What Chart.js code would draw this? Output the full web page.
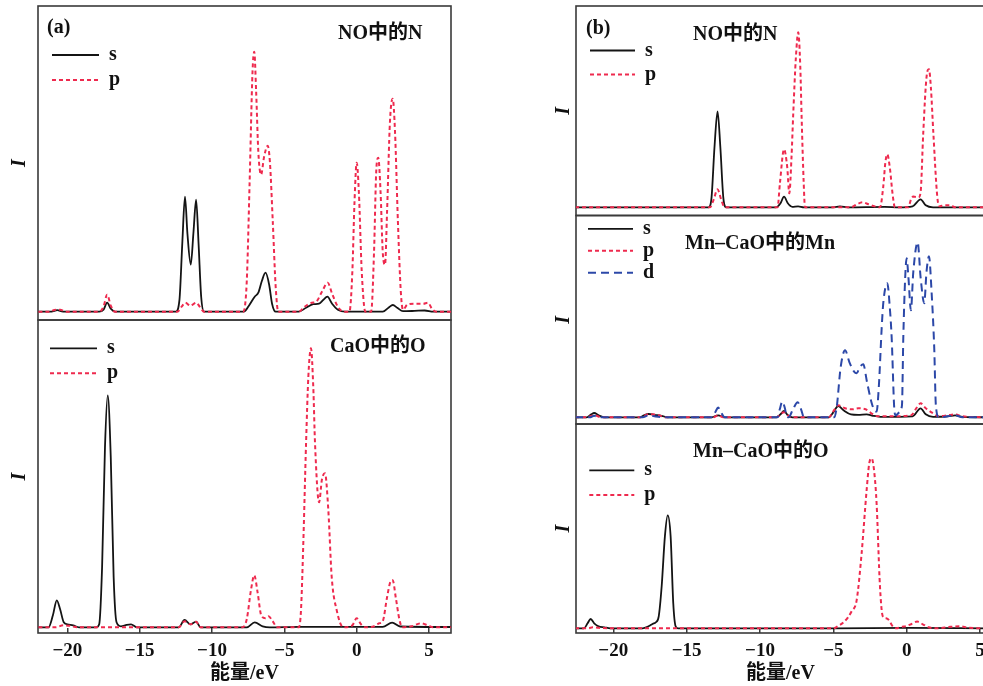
<!DOCTYPE html>
<html>
<head>
<meta charset="utf-8">
<script src="https://cdn.jsdelivr.net/npm/chart.js@4.4.1/dist/chart.umd.min.js"></script>
<style>
  html, body { margin: 0; padding: 0; background: #fff; }
  body { width: 983px; height: 686px; overflow: hidden; position: relative; }
  canvas { position: absolute; }
  .name { position: absolute; font: bold 20px "Liberation Serif", "Noto Sans CJK SC", serif; line-height: 20px; white-space: nowrap; color: #111; }
</style>
</head>
<body>
<canvas id="aTop" width="460" height="325" style="left:0;top:0"></canvas>
<canvas id="aBot" width="460" height="371" style="left:0;top:315px"></canvas>
<canvas id="bTop" width="480" height="220" style="left:530px;top:0"></canvas>
<canvas id="bMid" width="480" height="217" style="left:530px;top:211px"></canvas>
<canvas id="bBot" width="480" height="266" style="left:530px;top:420px"></canvas>
<div class="name" style="left:338px;top:22px">NO中的N</div>
<div class="name" style="left:330px;top:335px">CaO中的O</div>
<div class="name" style="left:693px;top:23px">NO中的N</div>
<div class="name" style="left:685px;top:232px">Mn–CaO中的Mn</div>
<div class="name" style="left:693px;top:440px">Mn–CaO中的O</div>
<script>
// energy (eV), intensity (arbitrary units) pairs
const xTicks = [-20, -15, -10, -5, 0, 5];
const xTitle = '能量/eV';

// (a) NO中的N
const aN_s = [[-22,0],[-21.1,0],[-20.7,1.5],[-20.3,0],[-17.8,0],[-17.5,2],[-17.25,9],[-17.0,3],[-16.7,0],
  [-12.5,0],[-12.25,12],[-12.05,70],[-11.87,115],[-11.7,78],[-11.47,47],[-11.28,80],[-11.1,112],[-10.93,68],[-10.75,15],[-10.55,0],
  [-7.8,0],[-7.45,6],[-7.05,15],[-6.8,19],[-6.55,31],[-6.3,39],[-6.05,27],[-5.85,8],[-5.6,0],
  [-4.0,0],[-3.5,4],[-3.0,7.5],[-2.6,8],[-2.3,12],[-2.03,15],[-1.7,8],[-1.3,2],[-0.8,0],
  [1.8,0],[2.2,4],[2.5,6.7],[2.8,4],[3.2,0.5],[4.0,0.8],[4.7,1.2],[5.3,0],[6.6,0]];
const aN_p = [[-22,0],[-21.2,0],[-20.9,1.8],[-20.5,2],[-20.1,0],[-17.8,0],[-17.5,5],[-17.25,17],[-17.0,6],[-16.7,0],
  [-12.4,0],[-12.1,5],[-11.85,9],[-11.5,6],[-11.1,9],[-10.8,4],[-10.55,0],
  [-7.85,0],[-7.6,30],[-7.4,130],[-7.2,240],[-7.08,260],[-6.95,220],[-6.8,160],[-6.61,137],[-6.4,155],[-6.15,166],[-6.0,150],[-5.8,90],[-5.6,25],[-5.42,0],
  [-4.0,0],[-3.6,5],[-3.1,9],[-2.8,10],[-2.4,20],[-2.0,29],[-1.7,18],[-1.3,5],[-0.9,0],
  [-0.5,0],[-0.3,40],[-0.15,110],[0,149],[0.15,120],[0.35,40],[0.6,0],
  [1.0,0],[1.2,60],[1.35,140],[1.49,154],[1.65,120],[1.8,60],[1.96,47],[2.1,100],[2.3,190],[2.49,213],[2.65,180],[2.85,90],[3.05,20],[3.2,2],
  [3.5,7],[4.0,8],[4.6,8],[4.93,9],[5.2,3],[5.5,0],[6.6,0]];

// (a) CaO中的O
const aO_s = [[-22,0],[-21.3,0],[-21.0,12],[-20.73,27],[-20.5,18],[-20.25,5],[-20.0,3],[-19.6,2],[-19.2,0],
  [-18.0,0],[-17.8,3],[-17.6,60],[-17.4,180],[-17.21,232],[-17.0,170],[-16.8,50],[-16.6,5],[-16.3,1],[-15.9,2.5],[-15.6,3],[-15.2,0],
  [-12.3,0],[-11.9,7.3],[-11.5,3],[-11.1,5.7],[-10.8,0],
  [-7.6,0],[-7.05,5],[-6.5,1],[-6.0,0],[-4.0,0.5],[0,0.5],[1.8,0.5],[2.45,4.7],[3.0,0.8],[6.6,0.3]];
const aO_p = [[-22,0],[-20.8,0],[-20.3,2],[-19.8,1.5],[-19.3,0],
  [-12.3,0],[-11.9,6],[-11.5,3],[-11.1,5.5],[-10.8,0],
  [-7.9,0],[-7.6,8],[-7.3,38],[-7.08,52],[-6.85,35],[-6.6,12],[-6.3,9],[-6.1,11],[-5.8,6],[-5.5,0],
  [-4.0,0],[-3.85,17],[-3.69,84],[-3.5,184],[-3.34,251],[-3.16,279],[-3.0,240],[-2.88,184],[-2.6,125],[-2.4,148],[-2.19,154],[-1.96,117],[-1.73,51],[-1.38,17],[-0.92,0],
  [-0.3,2],[0,9],[0.3,3],[0.6,0],[1.2,1],[1.56,4],[1.8,6],[2.1,30],[2.35,46],[2.49,47],[2.7,30],[2.95,8],[3.15,0],
  [3.8,1],[4.43,4],[4.9,2],[5.3,0],[6.6,0]];

// (b) NO中的N
const bN_s = [[-22.6,0],[-13.5,0],[-13.3,10],[-13.1,60],[-12.89,96],[-12.7,60],[-12.5,10],[-12.3,0],
  [-8.9,0],[-8.6,4],[-8.36,10.6],[-8.1,4],[-7.8,0.5],[-7.4,1],[-7.0,0],
  [-5.0,0],[-4.55,0.8],[-4.0,0],[-1.5,0.5],[-0.5,0],[0.4,1],[0.95,8],[1.3,2],[1.8,0],[5.5,0]];
const bN_p = [[-22.6,0],[-13.4,0],[-13.15,8],[-12.89,18],[-12.65,8],[-12.4,0],
  [-8.8,0],[-8.64,24],[-8.36,58],[-8.14,40],[-8.0,14],[-7.85,50],[-7.73,94],[-7.55,150],[-7.39,175],[-7.25,140],[-7.16,90],[-7.02,25],[-6.93,0],
  [-3.8,0],[-3.4,3],[-3.0,5],[-2.6,3],[-2.2,1],[-1.82,0],[-1.6,20],[-1.45,45],[-1.32,53],[-1.15,40],[-0.95,12],[-0.8,0],
  [0.1,0],[0.3,8],[0.45,10.7],[0.8,10],[0.95,15],[1.13,74],[1.36,131],[1.52,138],[1.65,120],[1.82,74],[2.09,10],[2.25,1],[2.6,2],[3.0,2],[3.3,0],[5.5,0]];

// (b) Mn-CaO中的Mn
const bMn_s = [[-22.6,0],[-21.8,0],[-21.5,3],[-21.3,4.3],[-21.0,2],[-20.6,0],
  [-18.2,0],[-17.9,2],[-17.6,3.3],[-17.2,2.5],[-16.7,1.5],[-16.3,0],
  [-13.3,0],[-12.85,2],[-12.4,0],[-8.9,0],[-8.6,3],[-8.36,6.3],[-8.1,2],[-7.8,0],
  [-5.3,0],[-5.0,5],[-4.66,11.3],[-4.3,7],[-3.8,3],[-3.3,2.5],[-2.73,3],[-2.3,1.5],[-1.8,0.5],[0.4,1],[0.95,9],[1.3,3],[1.8,0.5],[2.8,1],[3.3,2],[3.8,0.5],[5.5,0]];
const bMn_p = [[-22.6,0],[-21.8,0],[-21.3,2],[-20.8,0],[-18.2,0],[-17.6,3],[-17.0,2.5],[-16.4,0],
  [-13.2,0],[-12.85,2],[-12.5,0],[-8.9,0],[-8.36,5],[-7.9,0],
  [-5.3,0],[-5.0,6],[-4.66,12],[-4.2,9],[-3.7,8],[-3.3,9],[-2.8,8],[-2.4,4],[-2.0,1],[-1.0,1],[0.3,2],[0.7,10],[0.95,14],[1.3,9],[1.8,4],[2.2,1],[2.8,2],[3.3,3],[3.8,1],[5.5,0]];
const bMn_d = [[-22.6,0],[-21.6,0],[-21.3,1.5],[-21.0,0],[-18.0,0],[-17.6,2],[-17.2,1],[-16.5,0],
  [-13.3,0],[-13.05,5],[-12.85,9.7],[-12.65,5],[-12.4,0],
  [-8.8,0],[-8.65,8],[-8.48,15.7],[-8.3,9],[-8.2,2],[-8.05,0],[-7.75,8],[-7.43,15],[-7.2,8],[-7.0,0],
  [-4.95,0],[-4.77,10],[-4.5,50],[-4.2,67],[-3.9,55],[-3.6,46],[-3.41,44],[-3.2,50],[-2.96,53],[-2.7,35],[-2.4,15],[-2.2,7],[-2.05,5.7],
  [-1.9,30],[-1.7,90],[-1.59,115],[-1.32,134],[-1.15,110],[-1.02,79],[-0.85,10],[-0.75,2],
  [-0.5,5],[-0.32,12],[-0.23,79],[-0.1,140],[0.0,159],[0.12,140],[0.29,107],[0.45,145],[0.75,175],[0.95,140],[1.2,114],[1.35,145],[1.52,161],[1.7,125],[1.88,69],[1.99,12],[2.2,0],
  [2.8,1],[3.3,2],[3.8,0],[5.5,0]];

// (b) Mn-CaO中的O
const bO_s = [[-22.6,0],[-22.0,0],[-21.75,5],[-21.54,9.3],[-21.3,5],[-21.0,2],[-20.6,1],[-20.2,0],
  [-18.0,0],[-17.6,2],[-17.3,4.5],[-17.1,6],[-16.9,12],[-16.7,42],[-16.48,92],[-16.29,113],[-16.09,92],[-15.91,25],[-15.75,2],[-15.6,0],
  [-5.0,0],[0,0.5],[5.5,0]];
const bO_p = [[-22.6,0],[-21.7,0],[-21.4,1],[-21.0,0.5],[-20.0,0],
  [-5.0,0],[-4.6,3],[-4.3,6],[-4.0,11],[-3.75,17],[-3.41,28],[-3.07,75],[-2.73,138],[-2.55,165],[-2.39,170],[-2.2,155],[-2.05,125],[-1.82,42],[-1.63,12],[-1.4,10],[-1.2,8],[-1.0,3],[-0.7,0],
  [-0.3,1.5],[-0.07,2],[0.3,4],[0.72,6.7],[1.1,4],[1.5,1],[2.0,0],[3.0,1.5],[3.63,2],[4.2,0.5],[5.5,0]];

const SERIF = '"Liberation Serif", "Noto Sans CJK SC", serif';
Chart.defaults.font.family = SERIF;
Chart.defaults.color = '#111';

const STYLE = {
  s: { borderColor: '#141414', borderWidth: 1.8, borderDash: [], order: 3 },
  p: { borderColor: '#ee2a4e', borderWidth: 2, borderDash: [4, 3], order: 2 },
  d: { borderColor: '#2c48a8', borderWidth: 2, borderDash: [8, 5], order: 1 }
};

// box round each panel
const frame = {
  id: 'frame',
  beforeDatasetsDraw(chart) {
    const a = chart.chartArea, ctx = chart.ctx;
    ctx.save();
    ctx.strokeStyle = '#3a3a3a';
    ctx.lineWidth = 1.6;
    ctx.strokeRect(a.left, a.top, a.right - a.left, a.bottom - a.top);
    ctx.restore();
  }
};

// nudge the in-plot legend away from the frame
const legendShift = {
  id: 'legendShift',
  afterLayout(chart, args, opts) {
    if (!chart.legend) return;
    chart.legend.left += opts.x || 0;
    chart.legend.top += opts.y || 0;
  }
};

function panel(id, cfg) {
  return new Chart(document.getElementById(id), {
    type: 'line',
    data: {
      datasets: cfg.series.map((d, i) => Object.assign({
        label: cfg.keys[i], data: d, pointRadius: 0, fill: false,
        cubicInterpolationMode: 'monotone', borderCapStyle: 'butt'
      }, STYLE[cfg.keys[i]]))
    },
    options: {
      responsive: false,
      animation: false,
      events: [],
      layout: { padding: cfg.pad },
      scales: {
        x: {
          type: 'linear', min: cfg.xmin, max: cfg.xmax, display: cfg.bottom,
          afterBuildTicks: s => { s.ticks = xTicks.map(v => ({ value: v })); },
          afterFit: s => { if (cfg.bottom) s.height = 53; },
          grid: { drawOnChartArea: false, drawTicks: true, tickLength: -5, color: '#3a3a3a', lineWidth: 1.5 },
          border: { display: false },
          ticks: {
            autoSkip: false, maxRotation: 0, padding: 12, color: '#111',
            font: { size: 19, weight: 'bold' },
            callback: v => v < 0 ? '\u2212' + Math.abs(v) : String(v)
          },
          title: { display: true, text: xTitle, color: '#111', font: { size: 20, weight: 'bold', lineHeight: 1 }, padding: { top: 0, bottom: 2 } }
        },
        y: {
          min: cfg.ymin, max: cfg.ymax,
          afterFit: s => { s.width = cfg.yw; },
          grid: { display: false },
          border: { display: false },
          ticks: { display: false },
          title: { display: true, text: 'I', color: '#111', font: { size: 20, weight: 'bold', style: 'italic', lineHeight: 1 }, padding: { top: cfg.ytp, bottom: 0 } }
        }
      },
      plugins: {
        tooltip: { enabled: false },
        legend: {
          position: 'chartArea',
          align: 'start',
          title: cfg.tag
            ? { display: true, text: cfg.tag, position: 'start', color: '#111', font: { size: 20, weight: 'bold', lineHeight: 1 }, padding: cfg.tagPad }
            : { display: false },
          labels: {
            usePointStyle: true, pointStyleWidth: cfg.lw, padding: cfg.lp, color: '#111',
            font: { size: 20, weight: 'bold' },
            generateLabels: ch => ch.data.datasets.map((ds, i) => ({
              text: ds.label, strokeStyle: ds.borderColor, fillStyle: ds.borderColor,
              lineWidth: ds.borderWidth, lineDash: ds.borderDash, pointStyle: 'line',
              datasetIndex: i, hidden: false, fontColor: '#111'
            }))
          }
        },
        legendShift: cfg.shift
      }
    },
    plugins: [frame, legendShift]
  });
}

panel('aTop', { series: [aN_s, aN_p], keys: ['s', 'p'], xmin: -22.03, xmax: 6.52, ymin: -8.3, ymax: 305.7,
  yw: 38, ytp: 9.5, pad: { top: 6, right: 9, bottom: 5, left: 0 }, bottom: false,
  tag: '(a)', tagPad: { top: 10.7, bottom: 2.3 }, lp: 5, lw: 47, shift: { x: 9, y: 7 } });
panel('aBot', { series: [aO_s, aO_p], keys: ['s', 'p'], xmin: -22.03, xmax: 6.52, ymin: -5.7, ymax: 307.3,
  yw: 38, ytp: 9.5, pad: { top: 5, right: 9, bottom: 0, left: 0 }, bottom: true,
  lp: 5, lw: 47, shift: { x: 7, y: 18.3 } });
panel('bTop', { series: [bN_s, bN_p], keys: ['s', 'p'], xmin: -22.54, xmax: 5.34, ymin: -8.2, ymax: 201.3,
  yw: 46, ytp: 24, pad: { top: 6, right: 25, bottom: 4.5, left: 0 }, bottom: false,
  tag: '(b)', tagPad: { top: 11, bottom: -2 }, lp: 4, lw: 45, shift: { x: 10, y: 7.5 } });
panel('bMid', { series: [bMn_s, bMn_p, bMn_d], keys: ['s', 'p', 'd'], xmin: -22.54, xmax: 5.34, ymin: -6.7, ymax: 201.8,
  yw: 46, ytp: 24, pad: { top: 4.5, right: 25, bottom: 4, left: 0 }, bottom: false,
  lp: 2, lw: 45, shift: { x: 10, y: 5.8 } });
panel('bBot', { series: [bO_s, bO_p], keys: ['s', 'p'], xmin: -22.54, xmax: 5.34, ymin: -4.7, ymax: 204.3,
  yw: 46, ytp: 24, pad: { top: 4, right: 25, bottom: 0, left: 0 }, bottom: true,
  lp: 4.7, lw: 45, shift: { x: 8.6, y: 35.6 } });
</script>
</body>
</html>
